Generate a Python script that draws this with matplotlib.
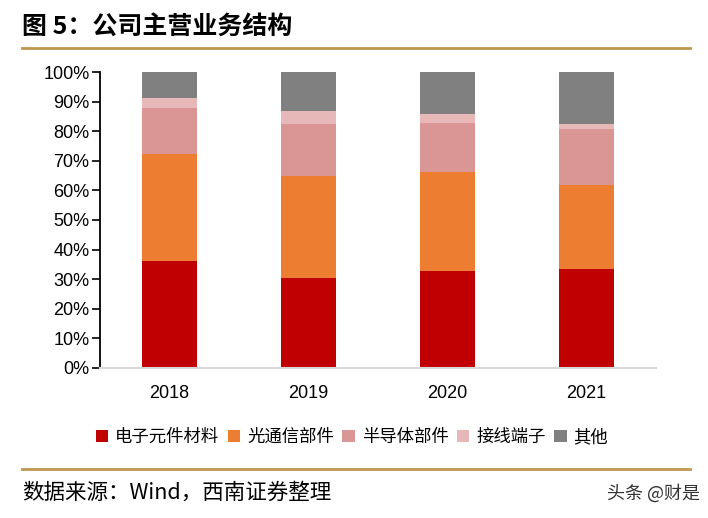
import numpy as np
import matplotlib.pyplot as plt
from matplotlib.ticker import PercentFormatter

plt.rcParams['font.family'] = ['Liberation Sans', 'Noto Sans CJK SC', 'DejaVu Sans']

years = ['2018', '2019', '2020', '2021']
names = ['电子元件材料', '光通信部件', '半导体部件', '接线端子', '其他']
colors = ['#C00000', '#ED7D31', '#DA9694', '#E6B9B8', '#808080']

# share of revenue, %
elec = [36.1, 30.3, 32.7, 33.4]
optic = [36.1, 34.5, 33.4, 28.3]
semi = [15.6, 17.6, 16.6, 19.0]
term = [3.4, 4.4, 3.1, 1.7]
other = [8.8, 13.2, 14.2, 17.6]
series = [elec, optic, semi, term, other]

fig = plt.figure(figsize=(7.08, 5.18), dpi=100)
ax = fig.add_axes([100 / 708, 1 - 368 / 518, 556 / 708, 296 / 518])

x = np.arange(len(years))
bottom = np.zeros(len(years))
for vals, name, c in zip(series, names, colors):
    ax.bar(x, vals, 0.40, bottom=bottom, color=c, label=name, zorder=2)
    bottom += np.array(vals)

ax.set_xlim(-0.5, 3.5)
ax.set_ylim(0, 100)
ax.set_yticks(np.arange(0, 101, 10))
ax.yaxis.set_major_formatter(PercentFormatter(decimals=0))
ax.set_xticks(x)
ax.set_xticklabels(years)
ax.tick_params(axis='y', length=5.5, width=1.2, labelsize=13, pad=2)
ax.tick_params(axis='x', length=0, labelsize=13, pad=12)
for s in ['top', 'right']:
    ax.spines[s].set_visible(False)
ax.spines['left'].set_linewidth(1.3)
ax.spines['bottom'].set_color('#D9D9D9')
ax.spines['bottom'].set_linewidth(1.5)

leg = fig.legend(loc='center', bbox_to_anchor=(352 / 708, 1 - 437 / 518), ncol=5,
                 frameon=False, handlelength=0.7, handleheight=0.7, handletextpad=0.4,
                 columnspacing=0.5, prop={'family': ['Noto Sans CJK SC'], 'size': 12.5})

fig.text(22 / 708, 1 - 27 / 518, '图 5：公司主营业务结构', fontsize=18, fontweight='bold',
         family=['Noto Sans CJK SC'], va='center', ha='left')
fig.add_artist(plt.Line2D([22 / 708, 690 / 708], [1 - 48 / 518] * 2, color='#C0964E', lw=2))
fig.add_artist(plt.Line2D([22 / 708, 690 / 708], [1 - 469 / 518] * 2, color='#C0964E', lw=2))
fig.text(22 / 708, 1 - 493 / 518, '数据来源：Wind，西南证券整理', fontsize=15.5, style='italic',
         family=['Noto Sans CJK SC'], va='center', ha='left')
fig.text(700 / 708, 1 - 493 / 518, '头条 @财是', fontsize=13, color='#333333',
         family=['Noto Sans CJK SC'], va='center', ha='right')

fig.savefig('out.png', dpi=100)
